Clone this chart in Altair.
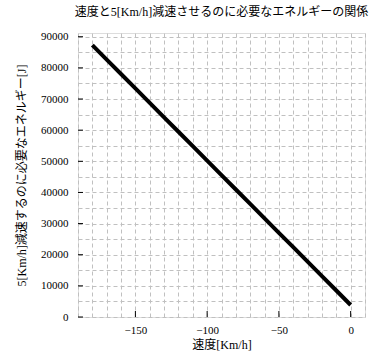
import altair as alt
import pandas as pd

speed = [-180, -170, -160, -150, -140, -130, -120, -110, -100, -90,
         -80, -70, -60, -50, -40, -30, -20, -10, 0]
energy = [87300, 82660, 78030, 73390, 68760, 64120, 59490, 54850, 50220, 45580,
          40950, 36310, 31680, 27040, 22410, 17770, 13140, 8500, 3850]

x_grid = list(range(-190, 11, 10))
y_grid = list(range(0, 91001, 5000))
x_major = [-150, -100, -50, 0]
y_major = list(range(0, 90001, 10000))

TITLE = "速度と5[Km/h]減速させるのに必要なエネルギーの関係"
XTITLE = "速度[Km/h]"
YTITLE = "5[Km/h]減速するのに必要なエネルギー[J]"

FONT = "Liberation Serif, Noto Sans CJK JP"

df = pd.DataFrame({"speed": speed, "energy": energy})
W, H = 287, 284

xscale = alt.Scale(domain=[-190, 10], nice=False, zero=False)
yscale = alt.Scale(domain=[0, 91200], nice=False)

xaxis = alt.Axis(values=x_grid, grid=True, gridDash=[4, 3], gridColor="#c0c0c0",
                 gridWidth=1, ticks=False, domain=False,
                 labelExpr="datum.value % 50 == 0 ? format(datum.value, 'd') : ''",
                 labelFont=FONT, labelFontSize=11, labelColor="black", labelPadding=7,
                 title=XTITLE, titleFont=FONT, titleFontSize=12, titleFontWeight="normal",
                 titleColor="black", titlePadding=4, labelOverlap=False)
yaxis = alt.Axis(values=y_grid, grid=True, gridDash=[4, 3], gridColor="#c0c0c0",
                 gridWidth=1, ticks=False, domain=False,
                 labelExpr="datum.value % 10000 == 0 ? format(datum.value, 'd') : ''",
                 labelFont=FONT, labelFontSize=11, labelColor="black", labelPadding=10,
                 title=YTITLE, titleFont=FONT, titleFontSize=12, titleFontWeight="normal",
                 titleColor="black", titlePadding=12, labelOverlap=False)

line = alt.Chart(df).mark_line(color="black", strokeWidth=4).encode(
    x=alt.X("speed:Q", scale=xscale, axis=xaxis),
    y=alt.Y("energy:Q", scale=yscale, axis=yaxis),
)

xt = alt.Chart(pd.DataFrame({"t": x_major})).mark_rule(color="black", strokeWidth=1).encode(
    x=alt.X("t:Q", scale=xscale, axis=xaxis),
    y=alt.value(H), y2=alt.value(H - 6),
)
yt = alt.Chart(pd.DataFrame({"t": y_major})).mark_rule(color="black", strokeWidth=1).encode(
    y=alt.Y("t:Q", scale=yscale, axis=yaxis),
    x=alt.value(0), x2=alt.value(5),
)

chart = alt.layer(line, xt, yt).properties(
    width=W, height=H,
    title=alt.TitleParams(TITLE, font=FONT, fontSize=12, fontWeight="normal",
                          color="black", offset=12),
    autosize=alt.AutoSizeParams(type="none"),
    padding={"left": 78, "top": 33, "right": 16, "bottom": 37},
).configure_view(stroke="black", strokeWidth=1.5).configure(background="white")

chart.save("out.html", embed_options={"renderer": "svg", "actions": False})
